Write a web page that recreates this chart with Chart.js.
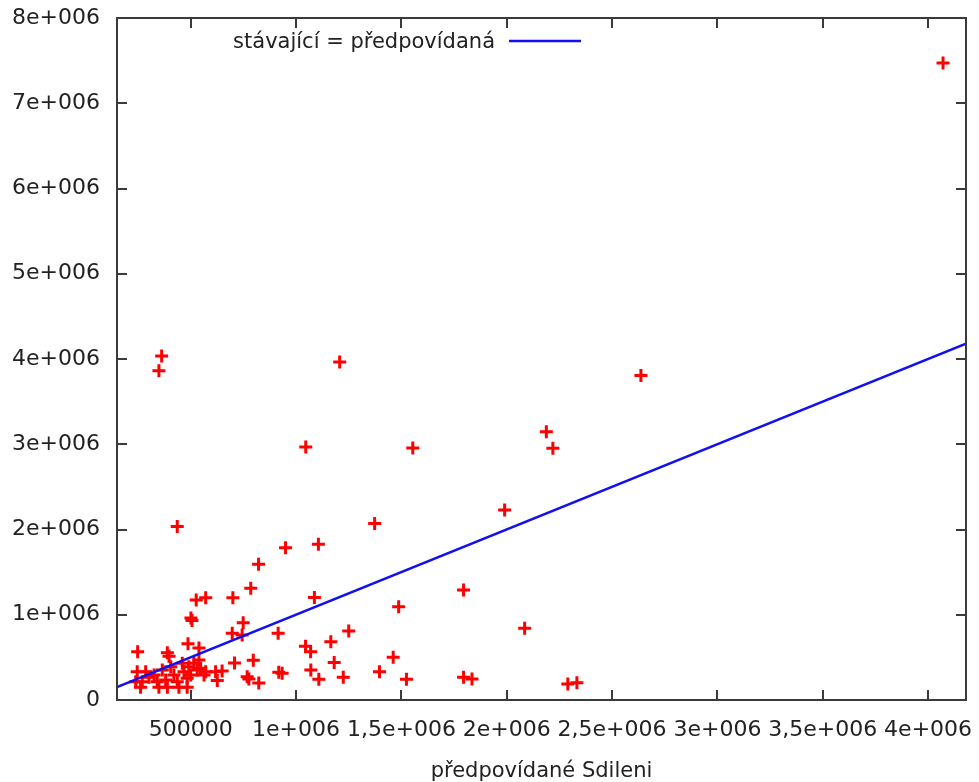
<!DOCTYPE html>
<html lang="cs">
<head>
    <meta charset="UTF-8">
    <title>stávající = předpovídaná</title>
    <script src="https://cdn.jsdelivr.net/npm/chart.js"></script>
    <style>
        html, body { margin: 0; padding: 0; background: #fff; }
    </style>
</head>
<body>
<canvas id="myChart" width="979" height="782"></canvas>
<script>
    const predicted = [
        4071000, 2637000, 2188000, 2219000, 1554000, 1046000, 1207000, 362000, 349000, 436000,
        1373000, 1990000, 1106000, 950000, 822000, 1795000, 785000, 1087000, 700000, 571000,
        526000, 1487000, 2085000, 1250000, 915000, 749000, 697000, 744000, 501000, 506000,
        487000, 539000, 248000, 389000, 397000, 1045000, 1069000, 1165000, 1461000, 797000,
        708000, 1181000, 918000, 934000, 1070000, 1396000, 618000, 649000, 768000, 776000,
        823000, 1108000, 1224000, 1524000, 626000, 1795000, 1835000, 2290000, 2333000,
        246000, 286000, 239000, 270000, 262000, 302000, 326000, 341000, 349000, 365000,
        381000, 389000, 405000, 420000, 436000, 444000, 460000, 468000, 483000, 491000,
        500000, 483000, 515000, 531000, 539000, 547000, 563000, 571000
    ];
    const actual = [
        7472000, 3806000, 3147000, 2953000, 2956000, 2968000, 3965000, 4035000, 3863000, 2035000,
        2070000, 2229000, 1826000, 1787000, 1592000, 1290000, 1310000, 1202000, 1200000, 1200000,
        1173000, 1094000, 841000, 809000, 782000, 907000, 782000, 762000, 962000, 933000,
        660000, 610000, 567000, 554000, 513000, 630000, 567000, 684000, 501000, 466000,
        434000, 440000, 325000, 313000, 352000, 332000, 332000, 340000, 273000, 246000,
        199000, 243000, 266000, 244000, 229000, 266000, 246000, 188000, 203000,
        332000, 332000, 215000, 215000, 149000, 266000, 293000, 215000, 149000, 352000,
        235000, 149000, 391000, 293000, 215000, 149000, 430000, 332000, 255000, 391000,
        293000, 149000, 430000, 352000, 469000, 372000, 293000, 332000
    ];

    const xRange = [150000, 4180000];
    const xTicks = [500000, 1000000, 1500000, 2000000, 2500000, 3000000, 3500000, 4000000];
    const yTicks = [0, 1000000, 2000000, 3000000, 4000000, 5000000, 6000000, 7000000, 8000000];

    const textColor = '#222';
    const fontFamily = "'DejaVu Sans', Verdana, sans-serif";

    // gnuplot style numbers: 500000, 1e+006, 1,5e+006
    function gnuFormat(v) {
        if (v === 0) return '0';
        if (v < 1000000) return String(v);
        let exp = Math.floor(Math.log10(v));
        let mant = v / Math.pow(10, exp);
        return String(mant).replace('.', ',') + 'e+' + String(exp).padStart(3, '0');
    }

    // box with inward ticks on all sides + legend inside the plot
    const gnuFrame = {
        id: 'gnuFrame',
        afterDraw(chart) {
            const ctx = chart.ctx;
            const a = chart.chartArea;
            const sx = chart.scales.x, sy = chart.scales.y;
            ctx.save();
            ctx.strokeStyle = '#3a3a3a';
            ctx.lineWidth = 2;
            ctx.strokeRect(a.left, a.top, a.right - a.left, a.bottom - a.top);
            ctx.beginPath();
            xTicks.forEach(v => {
                let px = Math.round(sx.getPixelForValue(v));
                ctx.moveTo(px, a.bottom); ctx.lineTo(px, a.bottom - 10);
                ctx.moveTo(px, a.top); ctx.lineTo(px, a.top + 10);
            });
            yTicks.forEach(v => {
                let py = Math.round(sy.getPixelForValue(v));
                ctx.moveTo(a.left, py); ctx.lineTo(a.left + 10, py);
                ctx.moveTo(a.right, py); ctx.lineTo(a.right - 10, py);
            });
            ctx.stroke();

            const ds = chart.data.datasets[0];
            const textRight = a.left + 378;
            const ly = a.top + 25;
            ctx.font = '21px ' + fontFamily;
            ctx.fillStyle = textColor;
            ctx.textAlign = 'right';
            ctx.textBaseline = 'middle';
            ctx.fillText(ds.label, textRight, ly);
            ctx.strokeStyle = ds.borderColor;
            ctx.lineWidth = ds.borderWidth;
            ctx.beginPath();
            ctx.moveTo(textRight + 14, ly - 2);
            ctx.lineTo(textRight + 86, ly - 2);
            ctx.stroke();
            ctx.restore();
        }
    };

    function init() {
        let ctx = document.getElementById('myChart').getContext('2d');
        new Chart(ctx, {
            type: 'scatter',
            data: {
                datasets: [
                    {
                        label: 'stávající = předpovídaná',
                        data: xRange.map(v => ({x: v, y: v})),
                        showLine: true,
                        pointRadius: 0,
                        borderColor: '#1010f2',
                        borderWidth: 2.5,
                    },
                    {
                        label: 'data',
                        data: predicted.map((x, i) => ({x: x, y: actual[i]})),
                        pointStyle: 'cross',
                        pointRadius: 6.5,
                        borderColor: '#ff0000',
                        backgroundColor: '#ff0000',
                        borderWidth: 3,
                    },
                ],
            },
            options: {
                responsive: false,
                animation: false,
                layout: {padding: {top: 18, right: 13, bottom: 0, left: 0}},
                plugins: {
                    legend: {display: false},
                    tooltip: {enabled: false},
                },
                scales: {
                    x: {
                        type: 'linear',
                        min: xRange[0],
                        max: xRange[1],
                        border: {display: false},
                        grid: {display: false, drawTicks: false},
                        afterBuildTicks: s => { s.ticks = xTicks.map(v => ({value: v})); },
                        ticks: {
                            autoSkip: false,
                            maxRotation: 0,
                            minRotation: 0,
                            padding: 17,
                            color: textColor,
                            font: {family: fontFamily, size: 22},
                            callback: v => gnuFormat(v),
                        },
                        title: {
                            display: true,
                            text: 'předpovídané Sdileni',
                            color: textColor,
                            font: {family: fontFamily, size: 21, lineHeight: 1},
                            padding: {top: 0, bottom: 0},
                        },
                        afterFit: s => { s.height = 82; s.paddingLeft = 0; s.paddingRight = 0; },
                    },
                    y: {
                        min: 0,
                        max: 8000000,
                        border: {display: false},
                        grid: {display: false, drawTicks: false},
                        afterBuildTicks: s => { s.ticks = yTicks.map(v => ({value: v})); },
                        ticks: {
                            padding: 17,
                            color: textColor,
                            font: {family: fontFamily, size: 22},
                            callback: v => gnuFormat(v),
                        },
                        afterFit: s => { s.width = 117; s.paddingTop = 0; s.paddingBottom = 0; },
                    },
                },
            },
            plugins: [gnuFrame],
        });
    }

    document.addEventListener('DOMContentLoaded', init);
</script>
</body>
</html>
